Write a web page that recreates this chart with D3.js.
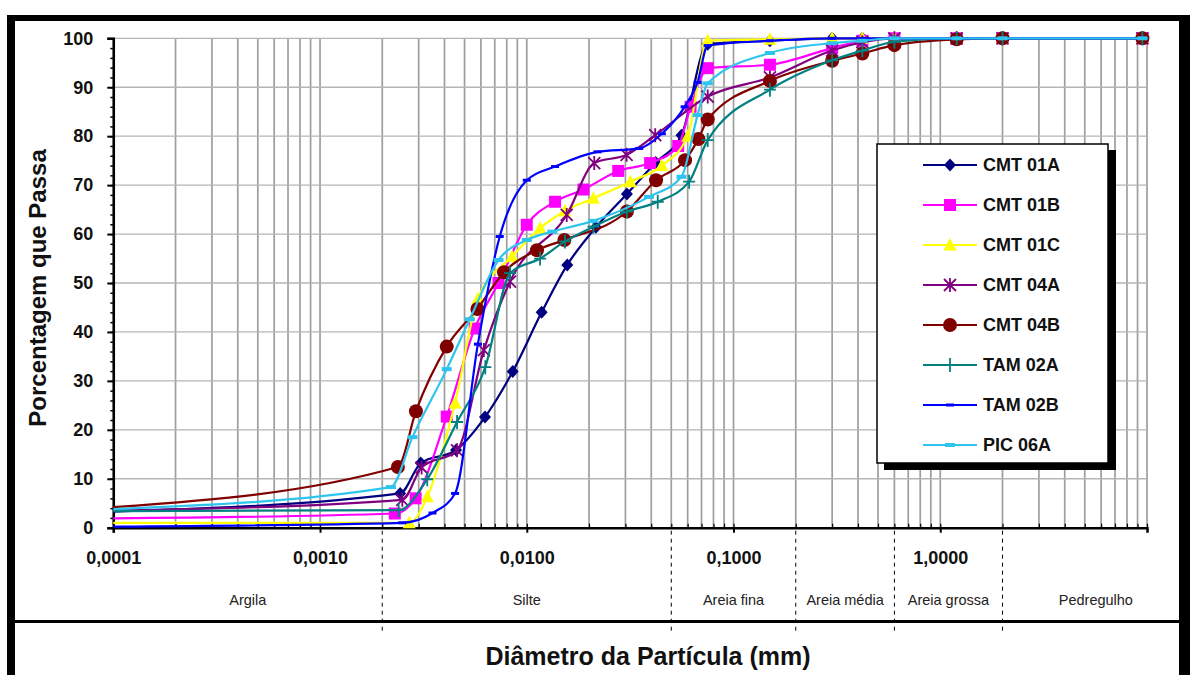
<!DOCTYPE html>
<html>
<head>
<meta charset="utf-8">
<script src="https://cdnjs.cloudflare.com/ajax/libs/d3/7.8.5/d3.min.js"></script>
<style>
  body { margin: 0; background: #fff; }
  svg { display: block; font-family: Arial, "Liberation Sans", sans-serif; }
</style>
</head>
<body>
<svg width="1190" height="675"></svg>
<script>
// ---- data: [diametro (mm), % que passa] ----
var cmt01a = [[0.0001,3.3],[0.00244,7.0],[0.00307,13.2],[0.00455,15.9],[0.00628,22.6],[0.00855,31.9],[0.0118,44.0],[0.0157,53.7],[0.0216,61.4],[0.0305,68.2],[0.042,74.6],[0.056,80.2],[0.075,98.8],[0.15,99.5],[0.3,100],[0.42,100],[0.6,100],[1.2,100],[2,100],[9.5,100]];
var cmt01b = [[0.0001,1.9],[0.0023,2.9],[0.0029,6.0],[0.0041,22.7],[0.0056,40.7],[0.0073,50.0],[0.010,61.9],[0.0137,66.6],[0.0188,69.1],[0.0277,72.9],[0.0395,74.5],[0.054,78.0],[0.062,86.0],[0.075,93.9],[0.15,94.6],[0.3,98.0],[0.42,99.5],[0.6,100],[1.2,100],[2,100],[9.5,100]];
var cmt01c = [[0.0001,1.0],[0.0027,1.0],[0.0033,6.3],[0.0045,25.5],[0.0058,46.8],[0.0085,55.4],[0.0116,61.2],[0.0153,64.7],[0.021,67.3],[0.0317,70.7],[0.045,74.0],[0.06,80.0],[0.075,99.5],[0.15,99.8],[0.3,100],[0.42,100],[0.6,100],[1.2,100],[2,100],[9.5,100]];
var cmt04a = [[0.0001,3.5],[0.0025,5.7],[0.0031,12.3],[0.0046,15.8],[0.0062,36.3],[0.0083,50.3],[0.0156,63.9],[0.0212,74.5],[0.0304,76.2],[0.0418,80.2],[0.075,88.1],[0.15,92.0],[0.3,97.5],[0.42,99.2],[0.6,100],[1.2,100],[2,100],[9.5,100]];
var cmt04b = [[0.0001,4.2],[0.00238,12.4],[0.00291,23.8],[0.0041,37.0],[0.00577,44.7],[0.00776,52.2],[0.0112,56.7],[0.0152,58.8],[0.0305,64.6],[0.0422,71.0],[0.0583,75.1],[0.0676,79.4],[0.075,83.4],[0.15,91.3],[0.3,95.4],[0.42,96.9],[0.6,98.6],[1.2,99.8],[2,100],[9.5,100]];
var tam02a = [[0.0001,3.4],[0.0024,3.6],[0.0033,9.9],[0.0046,21.6],[0.0063,32.8],[0.0083,52.0],[0.0116,55.0],[0.0153,58.5],[0.021,61.5],[0.0305,64.6],[0.043,66.6],[0.061,70.7],[0.075,79.2],[0.15,89.5],[0.3,95.5],[0.42,97.5],[0.6,99.3],[1.2,100],[2,100],[9.5,100]];
var tam02b = [[0.0001,0.2],[0.0025,1.0],[0.0035,3.0],[0.0045,7.0],[0.0058,37.5],[0.0074,59.5],[0.010,71.0],[0.0137,73.8],[0.022,76.8],[0.035,77.5],[0.045,80.5],[0.058,86.0],[0.067,91.0],[0.075,98.5],[0.15,99.5],[0.3,100],[0.42,100],[0.6,100],[1.2,100],[2,100],[9.5,100]];
var pic06a = [[0.0001,3.8],[0.0022,8.3],[0.0028,18.5],[0.0041,32.4],[0.0053,42.6],[0.0073,54.7],[0.010,58.8],[0.0133,60.5],[0.021,62.7],[0.039,67.6],[0.056,71.7],[0.067,84.3],[0.075,90.8],[0.15,97.0],[0.3,99.0],[0.42,99.5],[0.6,100],[1.2,100],[2,100],[9.5,100]];

var seriesNames = ["CMT 01A", "CMT 01B", "CMT 01C", "CMT 04A", "CMT 04B", "TAM 02A", "TAM 02B", "PIC 06A"];
var seriesData = [cmt01a, cmt01b, cmt01c, cmt04a, cmt04b, tam02a, tam02b, pic06a];
var seriesColors = ["#000080", "#ff00ff", "#ffff00", "#800080", "#800000", "#008080", "#0000ff", "#2ec4ee"];
var seriesMarkers = ["diamond", "square", "triangle", "star", "circle", "plus", "dash", "bar"];

var yTicks = [0, 10, 20, 30, 40, 50, 60, 70, 80, 90, 100];
var xTicks = [0.0001, 0.001, 0.01, 0.1, 1];
var xTickLabels = ["0,0001", "0,0010", "0,0100", "0,1000", "1,0000"];

// zonas granulometricas
var zoneNames = ["Argila", "Silte", "Areia fina", "Areia média", "Areia grossa", "Pedregulho"];
var zoneLimits = [0.0001, 0.002, 0.05, 0.2, 0.6, 2, 16];

var svg = d3.select("svg");

var x = d3.scaleLog().domain([0.0001, 10]).range([113.3, 1147]),
    y = d3.scaleLinear().domain([0, 100]).range([527.7, 38.3]);

// moldura
svg.append("rect").attr("x", 0).attr("y", 0).attr("width", 1190).attr("height", 675).attr("fill", "#fff");
svg.append("rect").attr("x", 7).attr("y", 15).attr("width", 8).attr("height", 660).attr("fill", "#000");
svg.append("rect").attr("x", 7).attr("y", 15).attr("width", 1183).attr("height", 6).attr("fill", "#000");
svg.append("rect").attr("x", 1179).attr("y", 15).attr("width", 11).attr("height", 660).attr("fill", "#000");
svg.append("rect").attr("x", 15).attr("y", 620).attr("width", 1164).attr("height", 3).attr("fill", "#000");

// grade
var g = svg.append("g");
g.selectAll(".vgrid")
    .data(x.ticks())
    .enter().append("line")
    .attr("class", "vgrid")
    .attr("x1", function (d) { return x(d); })
    .attr("x2", function (d) { return x(d); })
    .attr("y1", y(100))
    .attr("y2", y(0))
    .attr("stroke", "#9e9e9e")
    .attr("stroke-width", 1.7);

g.selectAll(".hgrid")
    .data(yTicks.filter(function (d) { return d > 0; }))
    .enter().append("line")
    .attr("class", "hgrid")
    .attr("x1", x(0.0001))
    .attr("x2", x(10))
    .attr("y1", function (d) { return y(d); })
    .attr("y2", function (d) { return y(d); })
    .attr("stroke", "#b5b5b5")
    .attr("stroke-width", 1.3);

// divisoes das zonas
g.selectAll(".zone")
    .data(zoneLimits.slice(1, 6))
    .enter().append("line")
    .attr("x1", function (d) { return x(d); })
    .attr("x2", function (d) { return x(d); })
    .attr("y1", y(0) + 3)
    .attr("y2", 632)
    .attr("stroke", "#000")
    .attr("stroke-width", 1)
    .attr("stroke-dasharray", "4,4");

g.selectAll(".zonelabel")
    .data(zoneNames)
    .enter().append("text")
    .attr("x", function (d, i) { return (x(zoneLimits[i]) + x(zoneLimits[i + 1])) / 2; })
    .attr("y", 605)
    .attr("text-anchor", "middle")
    .style("font-size", "14.5px")
    .attr("fill", "#222")
    .text(function (d) { return d; });

// eixo y
var yAxis = svg.append("g")
    .attr("transform", "translate(" + x(0.0001) + ",0)")
    .call(d3.axisLeft(y).tickValues(yTicks).tickSize(6).tickFormat(d3.format("d")).tickPadding(14));
yAxis.select(".domain").attr("stroke", "#000").attr("stroke-width", 2.5);
yAxis.selectAll(".tick line").attr("stroke", "#000").attr("stroke-width", 2);
yAxis.selectAll("text").style("font-size", "18px").style("font-weight", "bold").attr("fill", "#111");

svg.append("g")
    .attr("transform", "translate(" + x(0.0001) + ",0)")
    .call(d3.axisLeft(y).tickValues(d3.range(0, 101, 2)).tickSize(3).tickFormat(""))
    .call(function (s) { s.select(".domain").remove(); s.selectAll("line").attr("stroke", "#000").attr("stroke-width", 1.5); });

// eixo x
var xAxis = svg.append("g")
    .attr("transform", "translate(0," + y(0) + ")")
    .call(d3.axisBottom(x).tickValues(xTicks).tickSize(5).tickPadding(19)
        .tickFormat(function (d, i) { return xTickLabels[i]; }));
xAxis.select(".domain").attr("stroke", "#000").attr("stroke-width", 2.5);
xAxis.selectAll(".tick line").attr("stroke", "#000").attr("stroke-width", 2);
xAxis.selectAll("text").style("font-size", "18px").style("font-weight", "bold").attr("fill", "#111");

svg.append("g")
    .attr("transform", "translate(0," + y(0) + ")")
    .call(d3.axisTop(x).tickValues(x.ticks()).tickSize(4).tickFormat(""))
    .call(function (s) { s.select(".domain").remove(); s.selectAll("line").attr("stroke", "#000").attr("stroke-width", 1.2); });

// titulos
svg.append("text")
    .attr("transform", "translate(46,288) rotate(-90)")
    .attr("text-anchor", "middle")
    .style("font-size", "24px")
    .style("font-weight", "bold")
    .attr("fill", "#111")
    .text("Porcentagem que Passa");

svg.append("text")
    .attr("x", 648)
    .attr("y", 665)
    .attr("text-anchor", "middle")
    .style("font-size", "25px")
    .style("font-weight", "bold")
    .attr("fill", "#111")
    .text("Diâmetro da Partícula (mm)");

// marcadores
function marker(sel, type, color) {
    if (type == "diamond") {
        sel.append("path").attr("d", "M0,-6.5L6,0L0,6.5L-6,0Z").attr("fill", color);
    } else if (type == "square") {
        sel.append("rect").attr("x", -6).attr("y", -6).attr("width", 12).attr("height", 12).attr("fill", color);
    } else if (type == "triangle") {
        sel.append("path").attr("d", "M0,-7L6.5,5.5L-6.5,5.5Z").attr("fill", color);
    } else if (type == "star") {
        sel.append("path").attr("d", "M-6,-6L6,6M-6,6L6,-6M0,-7L0,7").attr("stroke", color).attr("stroke-width", 1.8).attr("fill", "none");
    } else if (type == "circle") {
        sel.append("circle").attr("r", 7).attr("fill", color);
    } else if (type == "plus") {
        sel.append("path").attr("d", "M-6,0L6,0M0,-7L0,7").attr("stroke", color).attr("stroke-width", 1.8).attr("fill", "none");
    } else if (type == "dash") {
        sel.append("rect").attr("x", -4).attr("y", -1.5).attr("width", 8).attr("height", 3).attr("fill", color);
    } else if (type == "bar") {
        sel.append("rect").attr("x", -5).attr("y", -2).attr("width", 10).attr("height", 4).attr("fill", color);
    }
}

var line = d3.line()
    .x(function (d) { return x(d[0]); })
    .y(function (d) { return y(d[1]); })
    .curve(d3.curveMonotoneX);

seriesData.forEach(function (data, i) {
    var s = svg.append("g").attr("class", "series");
    s.append("path")
        .datum(data)
        .attr("d", line)
        .attr("fill", "none")
        .attr("stroke", seriesColors[i])
        .attr("stroke-width", 2.2);
    s.selectAll(".pt")
        .data(data.slice(1))
        .enter().append("g")
        .attr("transform", function (d) { return "translate(" + x(d[0]) + "," + y(d[1]) + ")"; })
        .each(function () { marker(d3.select(this), seriesMarkers[i], seriesColors[i]); });
});

// legenda
var legend = svg.append("g").attr("transform", "translate(877,144)");
legend.append("rect").attr("x", 7).attr("y", 6).attr("width", 232).attr("height", 320).attr("fill", "#000");
legend.append("rect").attr("x", 0).attr("y", 0).attr("width", 231).attr("height", 319).attr("fill", "#fff").attr("stroke", "#000").attr("stroke-width", 1.5);

var items = legend.selectAll(".item")
    .data(seriesNames)
    .enter().append("g")
    .attr("transform", function (d, i) { return "translate(0," + (21 + i * 40) + ")"; });
items.append("line")
    .attr("x1", 46).attr("x2", 100)
    .attr("stroke", function (d, i) { return seriesColors[i]; })
    .attr("stroke-width", 2.2);
items.each(function (d, i) {
    marker(d3.select(this).append("g").attr("transform", "translate(73,0)"), seriesMarkers[i], seriesColors[i]);
});
items.append("text")
    .attr("x", 106)
    .attr("dy", "0.35em")
    .style("font-size", "18px")
    .style("font-weight", "bold")
    .attr("fill", "#111")
    .text(function (d) { return d; });
</script>
</body>
</html>
